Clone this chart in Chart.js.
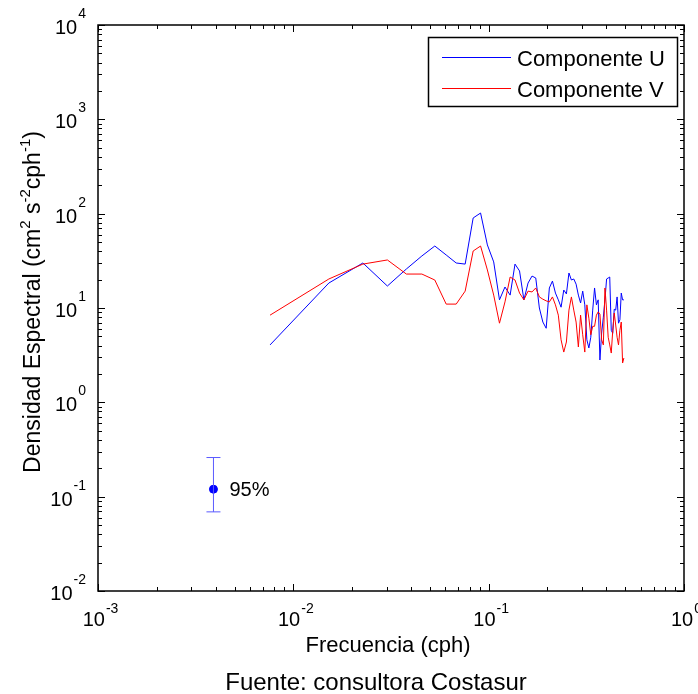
<!DOCTYPE html>
<html><head><meta charset="utf-8">
<script src="https://cdn.jsdelivr.net/npm/chart.js@4"></script>
<style>html,body{margin:0;padding:0;background:#fff;}canvas{display:block}</style>
</head><body>
<canvas id="c" width="698" height="694"></canvas>
<script>
const frequencies = [0.0076,0.0152,0.0227,0.0303,0.0379,0.0455,0.0530,0.0606,0.0682,0.0758,0.0833,0.0909,0.0985,0.1061,0.1136,0.1212,0.1288,0.1364,0.1439,0.1515,0.1591,0.1667,0.1742,0.1818,0.1894,0.1970,0.2045,0.2121,0.2197,0.2273,0.2348,0.2424,0.2500,0.2576,0.2652,0.2727,0.2803,0.2879,0.2955,0.3030,0.3106,0.3182,0.3258,0.3333,0.3409,0.3485,0.3561,0.3636,0.3712,0.3788,0.3864,0.3939,0.4015,0.4091,0.4167,0.4242,0.4318,0.4394,0.4470,0.4545,0.4621,0.4697,0.4773,0.4848,0.4924];
const componenteU = [4.06,18.4,30.0,17.1,25.9,35.6,45.4,36.5,30.0,29.2,90.0,101.6,46.6,30.8,12.2,16.7,13.7,29.2,24.7,12.2,18.4,21.8,20.8,10.0,7.1,6.1,16.3,19.3,14.4,12.2,10.2,15.5,14.1,23.5,19.8,20.3,17.9,13.7,11.3,15.1,10.8,4.6,3.77,4.9,9.5,16.3,10.8,12.2,2.81,5.43,8.0,12.2,20.3,20.8,21.3,5.8,5.4,9.7,9.5,13.1,6.9,7.5,14.4,12.2,12.2];
const componenteV = [8.4,20.3,29.2,32.3,22.9,22.9,19.8,11.0,11.0,15.1,40.2,45.4,25.3,13.7,6.9,11.6,21.3,19.8,14.4,12.2,15.1,14.8,16.3,13.1,12.4,11.9,11.6,13.1,10.8,8.4,4.6,3.41,4.36,9.5,13.1,9.5,7.1,3.86,8.4,5.2,3.41,10.8,7.8,5.2,6.4,6.4,8.4,9.1,8.6,4.6,4.06,16.3,9.5,4.9,4.06,3.33,5.8,8.85,6.6,4.9,4.06,5.8,7.1,2.61,2.95];
const ciFrequency = [0.0039];
const ciCenter = [0.12];
const ciLow = [0.069];
const ciHigh = [0.26];
const xTickExponents = ['-3','-2','-1','0'];
const yTickExponents = ['-2','-1','0','1','2','3','4'];
const seriesLabels = ['Componente U','Componente V'];
const xTitle = 'Frecuencia (cph)';
const yTitleParts = [['Densidad Espectral (cm',0],['2',1],[' s',0],['-2',1],['cph',0],['-1',1],[')',0]];
const ciLabel = '95%';
const caption = 'Fuente: consultora Costasur';

const FONT = '"Liberation Sans", Arial, Helvetica, sans-serif';

const overlay = {
  id: 'overlay',
  afterDraw(chart) {
    const ctx = chart.ctx, a = chart.chartArea, xs = chart.scales.x, ys = chart.scales.y;
    ctx.save();
    ctx.strokeStyle = '#000'; ctx.fillStyle = '#000'; ctx.lineWidth = 1;
    ctx.beginPath();
    for (let e = -3; e <= 0; e++) {
      for (let m = 1; m <= 9; m++) {
        if (e === 0 && m > 1) break;
        const px = Math.round(xs.getPixelForValue(m * Math.pow(10, e))) + 0.5;
        const len = m === 1 ? 7 : 4;
        ctx.moveTo(px, a.bottom); ctx.lineTo(px, a.bottom - len);
        ctx.moveTo(px, a.top); ctx.lineTo(px, a.top + len);
      }
    }
    for (let e = -2; e <= 4; e++) {
      for (let m = 1; m <= 9; m++) {
        if (e === 4 && m > 1) break;
        const py = Math.round(ys.getPixelForValue(m * Math.pow(10, e))) + 0.5;
        const len = m === 1 ? 7 : 4;
        ctx.moveTo(a.left, py); ctx.lineTo(a.left + len, py);
        ctx.moveTo(a.right, py); ctx.lineTo(a.right - len, py);
      }
    }
    ctx.stroke();
    ctx.lineWidth = 1.5;
    ctx.strokeRect(a.left, a.top, a.right - a.left, a.bottom - a.top);

    // tick labels
    ctx.textBaseline = 'alphabetic'; ctx.textAlign = 'left';
    const big = '20px ' + FONT, small = '14px ' + FONT;
    xTickExponents.forEach(ex => {
      const px = xs.getPixelForValue(Math.pow(10, +ex));
      ctx.font = big; const w1 = ctx.measureText('10').width;
      ctx.font = small; const w2 = ctx.measureText(ex).width;
      const x0 = px - (w1 + w2) / 2 + 2;
      ctx.font = big; ctx.fillText('10', x0, a.bottom + 35);
      ctx.font = small; ctx.fillText(ex, x0 + w1 + 1, a.bottom + 22);
    });
    yTickExponents.forEach(ex => {
      const py = ys.getPixelForValue(Math.pow(10, +ex));
      ctx.font = big; const w1 = ctx.measureText('10').width;
      ctx.font = small; const w2 = ctx.measureText(ex).width;
      const x0 = a.left - 12 - w1 - w2 - 1;
      ctx.font = big; ctx.fillText('10', x0, py + 9);
      ctx.font = small; ctx.fillText(ex, x0 + w1 + 1, py - 7);
    });

    // x title
    ctx.font = '22px ' + FONT; ctx.textAlign = 'center';
    ctx.fillText(xTitle, 388, 652);
    // caption
    ctx.font = '24px ' + FONT;
    ctx.fillText(caption, 376, 690);

    // y title rotated
    ctx.save();
    ctx.translate(40, 302); ctx.rotate(-Math.PI / 2);
    ctx.textAlign = 'left';
    const mainF = '23px ' + FONT, supF = '15px ' + FONT;
    let W = 0;
    yTitleParts.forEach(([t, s]) => { ctx.font = s ? supF : mainF; W += ctx.measureText(t).width; });
    let cx = -W / 2;
    yTitleParts.forEach(([t, s]) => {
      ctx.font = s ? supF : mainF;
      ctx.fillText(t, cx, s ? -10 : 0);
      cx += ctx.measureText(t).width;
    });
    ctx.restore();

    // legend
    const lx = 428, ly = 37, lw = 249, lh = 69;
    ctx.fillStyle = '#fff'; ctx.fillRect(lx, ly, lw, lh);
    ctx.lineWidth = 1.5; ctx.strokeStyle = '#000';
    ctx.strokeRect(lx + 0.5, ly + 0.5, lw, lh);
    ctx.font = '22px ' + FONT; ctx.textAlign = 'left'; ctx.fillStyle = '#000';
    [0, 1].forEach(i => {
      const ds = chart.data.datasets[i];
      const yy = [57.5, 88.5][i];
      ctx.strokeStyle = ds.borderColor; ctx.lineWidth = 1;
      ctx.beginPath(); ctx.moveTo(442, yy); ctx.lineTo(511, yy); ctx.stroke();
      ctx.fillText(ds.label, 517, [66, 97][i]);
    });

    // 95% label
    ctx.font = '20px ' + FONT; ctx.textBaseline = 'middle';
    ctx.fillText(ciLabel, xs.getPixelForValue(ciFrequency[0]) + 16, ys.getPixelForValue(ciCenter[0]) + 1);
    ctx.restore();
  }
};

const toPts = (xsArr, ysArr) => xsArr.map((f, i) => ({ x: f, y: ysArr[i] }));

new Chart(document.getElementById('c'), {
  type: 'line',
  data: {
    datasets: [
      { label: seriesLabels[0], data: toPts(frequencies, componenteU), borderColor: '#0000ff', borderWidth: 1, pointRadius: 0, order: 2 },
      { label: seriesLabels[1], data: toPts(frequencies, componenteV), borderColor: '#ff0000', borderWidth: 1, pointRadius: 0, order: 1 },
      { label: 'IC 95%', data: [{ x: ciFrequency[0], y: ciLow[0] }, { x: ciFrequency[0], y: ciHigh[0] }], borderColor: '#5a5aff', borderWidth: 1, pointStyle: 'line', pointRadius: 7, pointBorderWidth: 1, pointBorderColor: '#5a5aff', order: 0 },
      { label: 'Centro', data: [{ x: ciFrequency[0], y: ciCenter[0] }], showLine: false, pointRadius: 4, pointBackgroundColor: '#0000ff', pointBorderColor: '#0000ff', order: 0 }
    ]
  },
  options: {
    responsive: false, animation: false, devicePixelRatio: 1,
    layout: { padding: { top: 25, right: 14, left: 0, bottom: 0 }, autoPadding: false },
    plugins: { legend: { display: false }, tooltip: { enabled: false } },
    scales: {
      x: { type: 'logarithmic', min: 0.001, max: 1, grid: { display: false }, border: { display: false }, ticks: { display: false }, afterFit(s) { s.height = 103; } },
      y: { type: 'logarithmic', min: 0.01, max: 10000, grid: { display: false }, border: { display: false }, ticks: { display: false }, afterFit(s) { s.width = 98; } }
    }
  },
  plugins: [overlay]
});
</script>
</body></html>
